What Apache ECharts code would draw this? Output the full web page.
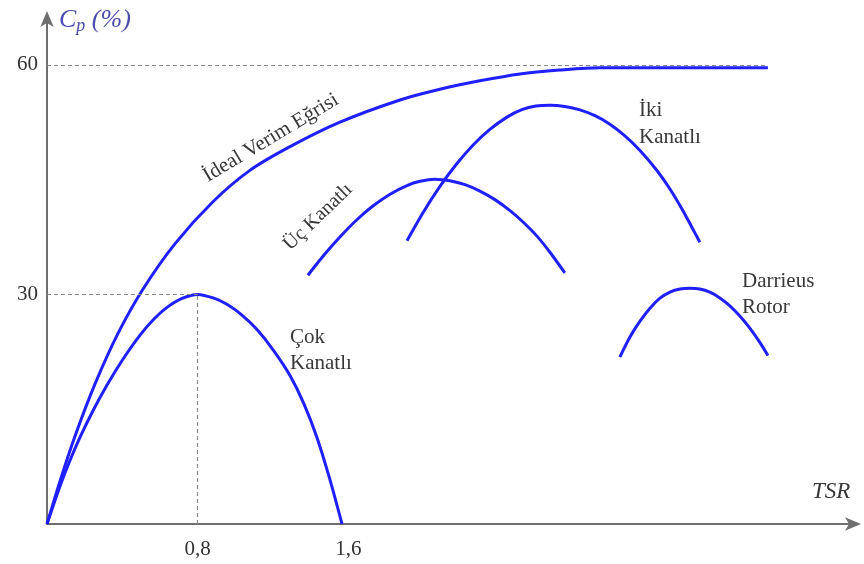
<!DOCTYPE html>
<html>
<head>
<meta charset="utf-8">
<script src="https://cdn.jsdelivr.net/npm/echarts@6/dist/echarts.min.js"></script>
<style>
  html, body { margin: 0; padding: 0; background: #fff; }
  #charts { width: 864px; height: 564px; }
</style>
</head>
<body>
<div id="charts"></div>
<script>
    // TSR (x), Cp % (y)
    var idealData = [[0,0],[0.069,5.6],[0.149,11.5],[0.255,18.3],[0.377,24.9],[0.51,30.7],[0.679,36.6],
        [0.881,42.1],[1.077,46.2],[1.29,49.3],[1.555,52.5],[1.874,55.4],[2.086,56.8],[2.298,57.9],
        [2.511,58.8],[2.723,59.3],[2.935,59.6],[3.2,59.6],[3.827,59.6]];
    var cokData = [[0,0],[0.069,4.94],[0.122,8.3],[0.175,11.31],[0.244,14.79],[0.318,18.13],[0.403,21.52],
        [0.494,24.68],[0.568,26.78],[0.637,28.3],[0.717,29.48],[0.8,30.0],[0.886,29.5],[0.955,28.7],
        [1.035,27.3],[1.115,25.4],[1.205,22.6],[1.29,19.4],[1.364,15.7],[1.433,11.3],[1.502,5.8],[1.566,0]];
    var ucData = [[1.385,32.5],[1.476,35.3],[1.555,37.5],[1.645,39.75],[1.73,41.54],[1.821,43.09],[1.911,44.22],
        [1.98,44.77],[2.059,45.05],[2.139,44.85],[2.219,44.33],[2.298,43.5],[2.378,42.38],[2.458,40.94],
        [2.527,39.46],[2.601,37.61],[2.67,35.5],[2.749,32.8]];
    var ikiData = [[1.911,37.0],[1.996,40.66],[2.086,44.1],[2.171,46.93],[2.261,49.48],[2.351,51.55],[2.442,53.16],
        [2.521,54.13],[2.596,54.6],[2.67,54.7],[2.749,54.54],[2.829,54.1],[2.909,53.34],[2.988,52.24],
        [3.068,50.72],[3.148,48.8],[3.238,46.19],[3.307,43.77],[3.376,40.94],[3.424,38.74],[3.466,36.8]];
    var darrieusData = [[3.041,21.8],[3.094,24.4],[3.148,26.5],[3.201,28.2],[3.254,29.5],[3.307,30.3],
        [3.36,30.7],[3.413,30.8],[3.466,30.7],[3.519,30.28],[3.572,29.54],[3.625,28.51],[3.678,27.18],
        [3.731,25.59],[3.785,23.7],[3.827,22.02]];

    var xTicks = [0.8, 1.6];
    var yTicks = [30, 60];
    var cpMax = 60;
    var cokPeak = [0.8, 30];

    var blue = '#1f1fff';
    var serif = '"Liberation Serif", "DejaVu Serif", serif';
    var txt = '#383838';

    var chart = echarts.init(document.getElementById('charts'));

    function curve(name, data, extra) {
        var s = {
            name: name,
            type: 'line',
            data: data,
            smooth: 0.3,
            showSymbol: false,
            silent: true,
            lineStyle: { color: blue, width: 3 }
        };
        return Object.assign(s, extra || {});
    }

    var guide = { color: '#8a8a8a', type: [4, 3], width: 1.2 };

    chart.setOption({
        animation: false,
        grid: { left: 47, right: 7, top: 15, bottom: 40 },
        xAxis: {
            type: 'value', min: 0, max: 4.3,
            splitLine: { show: false },
            axisTick: { show: false },
            axisLine: { onZero: false, symbol: ['none', 'arrow'], symbolSize: [10, 16], symbolOffset: [0, 4],
                lineStyle: { color: '#6e6e6e', width: 2 } },
            axisLabel: {
                customValues: xTicks, margin: 15, color: '#333',
                fontFamily: serif, fontSize: 21,
                formatter: function (v) { return String(v).replace('.', ','); }
            }
        },
        yAxis: {
            type: 'value', min: 0, max: 66.5,
            splitLine: { show: false },
            axisTick: { show: false },
            axisLine: { symbol: ['none', 'arrow'], symbolSize: [10, 16], symbolOffset: [0, 4],
                lineStyle: { color: '#6e6e6e', width: 2 } },
            axisLabel: { customValues: yTicks, margin: 9, color: '#333', fontFamily: serif, fontSize: 21 }
        },
        series: [
            curve('İdeal Verim Eğrisi', idealData, {
                markLine: {
                    silent: true, symbol: 'none', label: { show: false }, lineStyle: guide,
                    data: [
                        [{ coord: [0, cpMax] }, { coord: [idealData[idealData.length - 1][0], cpMax] }]
                    ]
                }
            }),
            curve('Çok Kanatlı', cokData, {
                markLine: {
                    silent: true, symbol: 'none', label: { show: false }, lineStyle: guide,
                    data: [
                        [{ coord: [0, cokPeak[1]] }, { coord: cokPeak }],
                        [{ coord: [cokPeak[0], 0] }, { coord: cokPeak }]
                    ]
                }
            }),
            curve('Üç Kanatlı', ucData),
            curve('İki Kanatlı', ikiData),
            curve('Darrieus Rotor', darrieusData)
        ],
        graphic: [
            {
                type: 'text', left: 59, top: 7,
                style: {
                    text: '{c|C}{s|p}{c| (%)}',
                    rich: {
                        c: { fontFamily: serif, fontStyle: 'italic', fontSize: 26, fill: '#4c4cae' },
                        s: { fontFamily: serif, fontStyle: 'italic', fontSize: 18, fill: '#4c4cae', padding: [12, 0, 0, 0] }
                    }
                }
            },
            { type: 'text', left: 812, top: 480,
                style: { text: 'TSR', fontFamily: serif, fontStyle: 'italic', fontSize: 23, fill: txt } },
            { type: 'text', x: 271, y: 138, rotation: 31 * Math.PI / 180,
                style: { text: 'İdeal Verim Eğrisi', fontFamily: serif, fontSize: 21, fill: txt, align: 'center', verticalAlign: 'middle' } },
            { type: 'text', x: 318, y: 217, rotation: 44 * Math.PI / 180,
                style: { text: 'Üç Kanatlı', fontFamily: serif, fontSize: 20, fill: txt, align: 'center', verticalAlign: 'middle' } },
            { type: 'text', left: 639, top: 97,
                style: { text: 'İki\nKanatlı', fontFamily: serif, fontSize: 21, lineHeight: 27, fill: txt } },
            { type: 'text', left: 742, top: 268,
                style: { text: 'Darrieus\nRotor', fontFamily: serif, fontSize: 21, lineHeight: 26, fill: txt } },
            { type: 'text', left: 290, top: 324,
                style: { text: 'Çok\nKanatlı', fontFamily: serif, fontSize: 21, lineHeight: 26, fill: txt } }
        ]
    });
</script>
</body>
</html>
